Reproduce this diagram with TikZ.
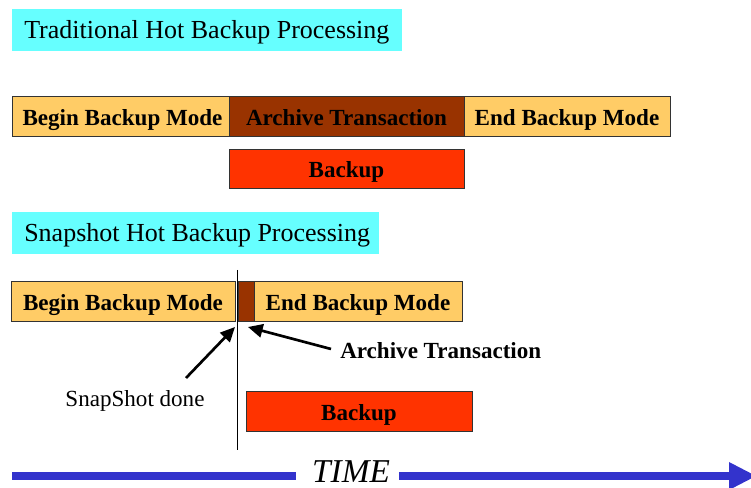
\documentclass[tikz,border=0pt]{standalone}
\usepackage{fontspec}
\setmainfont{Liberation Serif}
\usetikzlibrary{arrows.meta}
\definecolor{titlecyan}{HTML}{66FFFF}
\definecolor{modeorange}{HTML}{FFCC66}
\definecolor{archbrown}{HTML}{993300}
\definecolor{backred}{HTML}{FF3300}
\definecolor{timeblue}{HTML}{3333CC}
\tikzset{
  titlebox/.style={fill=titlecyan, inner sep=0pt, anchor=north west},
  titletext/.style={inner sep=0pt, anchor=west, yshift=-2pt,
    font=\fontsize{19.5}{22}\selectfont},
  bar/.style={draw=black!80, line width=0.75pt, inner sep=0pt},
  boldtext/.style={inner sep=0pt, font=\fontsize{17.3}{20}\bfseries\selectfont},
  bartext/.style={boldtext, anchor=base, yshift=-6.2pt},
  modebar/.style={bar, fill=modeorange},
  archbar/.style={bar, fill=archbrown},
  backbar/.style={bar, fill=backred},
  callout/.style={line width=2pt, -{Triangle[length=11pt,width=10pt]}},
}
% a box given by its corners (x1,y1) and (x2,y2) in pixels
\newcommand{\pxbox}[6]{%
  \node[#1, minimum width={(#4-#2)*0.75pt}, minimum height={(#5-#3)*0.75pt}]
    (#6) at ({(#2+#4)/2},{(#3+#5)/2}) {};}
\begin{document}
\begin{tikzpicture}[x=0.75pt, y=-0.75pt]
  \useasboundingbox (0,0) rectangle (751,488);

  % ---- traditional hot backup ----
  \node[titlebox, minimum width=390*0.75pt, minimum height=42*0.75pt] (t1) at (12,9) {};
  \node[titletext] (t1text) at (24,30) {Traditional Hot Backup Processing};

  \pxbox{modebar}{12}{97}{229}{137}{tbegin}
  \pxbox{archbar}{229}{97}{464}{137}{tarch}
  \pxbox{modebar}{464}{97}{670}{137}{tend}
  \node[bartext, xshift=1.5pt] at (tbegin) {Begin Backup Mode};
  \node[bartext] at (tarch) {Archive Transaction};
  \node[bartext] at (tend) {End Backup Mode};

  \pxbox{backbar}{229}{150}{464}{189}{tback}
  \node[bartext] at (tback) {Backup};

  % ---- snapshot hot backup ----
  \node[titlebox, minimum width=367*0.75pt, minimum height=42*0.75pt] (t2) at (12,212) {};
  \node[titletext] (t2text) at (24,233) {Snapshot Hot Backup Processing};

  \pxbox{modebar}{11}{282}{235}{322}{sbegin}
  \pxbox{archbar}{238}{282}{254}{322}{sarch}
  \pxbox{modebar}{254}{282}{462}{322}{send}
  \node[bartext] at (sbegin) {Begin Backup Mode};
  \node[bartext] at (send) {End Backup Mode};

  \pxbox{backbar}{246}{392}{472}{432}{sback}
  \node[bartext] at (sback) {Backup};

  % snapshot instant
  \coordinate (snaptop) at (237,270);
  \coordinate (snapbot) at (237,450);
  \draw[line width=0.75pt] (snaptop) -- (snapbot);

  % callouts
  \node[inner sep=0pt, font=\fontsize{17.3}{20}\selectfont] (snaplbl) at (135,401) {SnapShot done};
  \node[boldtext, anchor=base west] (archlbl) at (340,359) {Archive Transaction};
  \coordinate (snaptail) at (186,378);
  \coordinate (snaptip) at (235,327);
  \coordinate (archtail) at (331,349);
  \coordinate (archtip) at (248,327);
  \draw[callout] (snaptail) -- (snaptip);
  \draw[callout] (archtail) -- (archtip);

  % time axis
  \node[inner sep=0pt, font=\fontsize{25}{28}\itshape\selectfont] (time) at (351,472) {TIME};
  \fill[timeblue] (12,472) rectangle (296,480);
  \fill[timeblue] (399,472) rectangle (730,480);
  \fill[timeblue] (729,462) -- (756,476) -- (729,490) -- cycle;
\end{tikzpicture}
\end{document}
